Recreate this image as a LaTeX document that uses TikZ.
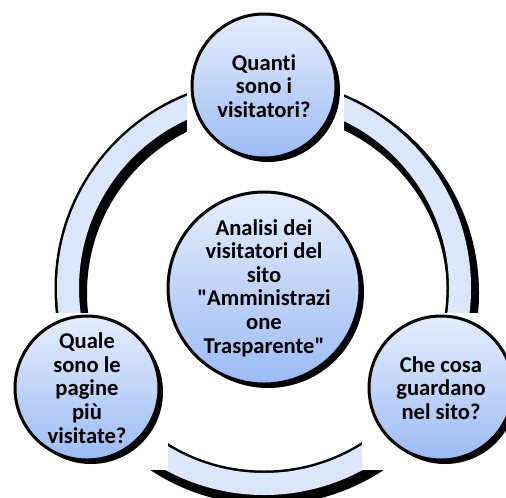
\documentclass[tikz,border=0pt]{standalone}
\usepackage{fontspec}
\setmainfont{Carlito}[Ligatures={TeX,NoCommon}]
\usepackage{tikz}
\usetikzlibrary{shadows}

\definecolor{bandfill}{RGB}{219,229,251}
\definecolor{bubbletop}{RGB}{229,237,252}
\definecolor{bubblebot}{RGB}{156,187,244}

\begin{document}
\begin{tikzpicture}[
    x=0.5pt, y=-0.5pt,
    bubble/.style={circle, draw=black, line width=1.5pt, top color=bubbletop, bottom color=bubblebot,
        align=center, inner sep=0pt, font=\bfseries\fontsize{11.3}{11.8}\selectfont,
        drop shadow={shadow xshift=2pt, shadow yshift=-2pt, opacity=1, fill=black}},
    question/.style={bubble, minimum size=72pt},
    topic/.style={bubble, minimum size=96pt},
    cover/.style={fill=white, inner sep=0pt, minimum size=78.5pt}
]
    \useasboundingbox (0,0) rectangle (506,497);

    % Ring
    \coordinate (ringc) at (264,288);
    \draw[line width=16pt, black] (ringc) ++(3,5) circle [radius=98pt];
    \draw[line width=13.5pt, black] (ringc) circle [radius=98pt];
    \draw[line width=11pt, bandfill] (ringc) circle [radius=98pt];

    % Gaps round the outer bubbles
    \node[cover] (visitatoribox) at (265,88) {};
    \node[cover] (paginebox) at (89,391) {};
    \node[cover] (guardanobox) at (440,391) {};

    % Bubbles
    \node[question] (visitatori) at (264,86) {Quanti\\sono i\\visitatori?};
    \node[question] (pagine) at (87,388) {Quale\\sono le\\pagine\\più\\visitate?};
    \node[question] (guardano) at (441,388) {Che cosa\\guardano\\nel sito?};
    \node[topic] (analisi) at (ringc) {Analisi dei\\visitatori del\\sito\\\textquotedbl Amministrazi\\one\\Trasparente\textquotedbl};

\end{tikzpicture}
\end{document}
